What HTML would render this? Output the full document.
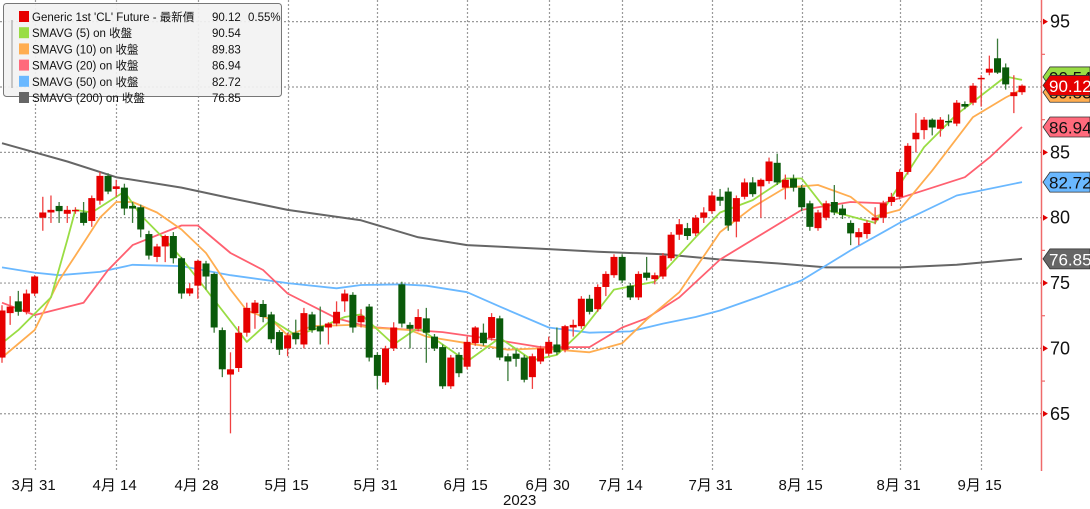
<!DOCTYPE html>
<html><head><meta charset="utf-8"><style>
html,body{margin:0;padding:0;background:#fff;}
svg{display:block;font-family:"Liberation Sans","Noto Sans CJK TC",sans-serif;}
</style></head><body>
<svg id="chart" width="1090" height="509" viewBox="0 0 1090 509" xmlns="http://www.w3.org/2000/svg">
<g id="grid"></g>
<g id="mas"></g>
<g id="candles"></g>
<g id="axis"></g>
<g id="legend"></g>
</svg>
<script>
// ---- data ----
const opens =  [69.3,72.7,73.6,72.8,74.2,80.0,80.4,80.9,80.3,80.5,80.4,79.75,81.3,83.2,82.2,82.3,80.9,80.8,78.75,77.0,77.8,78.6,76.9,74.2,74.8,76.5,75.7,71.4,68.0,68.5,71.2,72.7,73.4,72.6,71.25,70.0,71.2,70.3,72.6,71.7,71.6,71.9,73.6,74.1,72.0,73.2,69.5,67.4,70.0,74.9,71.8,71.5,72.3,70.9,70.1,67.1,69.5,68.6,70.4,71.2,70.8,72.3,69.4,69.6,69.3,67.8,69.0,69.6,70.3,69.9,71.6,71.7,73.8,73.0,74.7,75.6,77.0,74.8,73.9,75.8,75.3,75.5,76.9,78.7,79.2,78.8,80.0,80.5,81.6,82.0,79.7,81.6,82.7,82.4,82.8,84.2,82.3,83.0,82.3,81.1,79.2,80.0,81.2,80.7,79.6,78.5,78.75,79.8,80.0,81.2,81.6,83.5,86.0,86.7,87.5,86.8,87.4,87.2,88.7,88.8,90.6,91.1,92.2,91.5,89.3,89.6];
const highs =  [73.3,74.0,74.4,74.5,75.6,81.6,81.7,81.2,80.9,80.8,81.2,81.7,83.5,83.4,82.9,82.6,81.2,81.0,79.0,78.0,78.7,78.9,77.0,75.0,76.8,76.7,75.8,71.6,69.7,71.7,73.5,73.7,73.7,72.8,71.4,71.2,72.2,73.1,72.8,73.2,72.0,73.6,74.5,74.3,73.0,73.4,69.7,70.2,72.0,75.1,72.0,73.0,73.1,71.1,70.3,69.5,69.7,70.9,71.7,71.9,72.7,72.5,69.6,69.9,69.5,69.6,70.2,70.9,71.6,71.8,72.2,74.0,74.1,74.9,75.9,77.2,77.2,75.0,75.9,77.0,75.8,77.3,78.9,79.9,79.6,80.2,80.8,82.0,82.2,82.3,81.7,83.0,83.1,83.0,84.6,84.9,83.3,83.3,82.5,81.3,80.6,81.3,82.5,81.0,79.8,79.2,79.8,80.8,81.3,81.9,83.7,85.7,88.0,87.7,87.6,87.7,87.9,89.0,88.9,90.3,90.9,92.4,93.7,91.8,90.9,90.2];
const lows =   [68.9,71.8,72.5,72.6,74.0,79.0,79.6,79.6,79.6,80.3,79.4,79.3,81.0,81.8,81.6,80.2,79.6,78.5,76.8,76.6,76.6,76.5,73.8,74.0,73.8,74.5,71.2,67.8,63.5,68.2,70.9,71.5,72.0,70.4,69.5,69.4,70.3,70.0,71.2,70.3,70.3,71.7,72.8,71.2,71.6,69.0,66.9,67.2,69.8,71.6,70.0,71.3,68.9,69.8,66.9,66.9,67.8,68.4,70.2,70.2,70.6,69.1,67.5,68.6,67.4,66.9,68.8,69.4,69.5,69.7,70.9,71.5,72.6,72.8,74.0,75.4,75.0,73.7,73.7,75.2,74.9,75.3,76.7,78.3,78.3,78.6,79.6,80.3,80.9,79.0,78.5,81.4,81.6,80.0,82.6,82.5,81.4,82.0,80.5,79.0,79.0,79.8,80.2,79.9,77.9,77.9,78.4,79.5,79.6,80.9,81.4,83.3,85.0,86.0,86.3,86.2,87.0,87.0,88.3,88.6,88.5,90.9,91.0,89.8,88.0,89.4];
const closes = [72.9,73.2,72.8,74.2,75.5,80.4,80.6,80.5,80.6,80.6,79.6,81.5,83.2,82.0,82.4,80.7,80.7,79.1,77.1,77.8,78.6,76.9,74.2,74.6,76.7,75.5,71.6,68.4,68.4,71.2,73.1,73.5,72.4,70.7,69.9,71.0,70.7,72.7,71.4,71.3,71.9,72.8,74.2,71.6,72.5,69.3,67.9,70.0,71.6,71.9,71.5,72.4,71.2,70.0,67.1,69.3,68.1,70.5,71.6,70.4,72.4,69.3,69.0,69.2,67.6,69.4,70.0,70.5,69.7,71.7,71.8,73.8,72.8,74.7,75.7,77.0,75.2,73.9,75.7,75.4,75.6,77.1,78.7,79.5,78.6,80.0,80.4,81.7,81.3,79.4,81.5,82.7,81.8,82.9,84.3,82.7,82.9,82.3,80.8,79.3,80.4,81.1,80.4,80.2,78.8,78.9,79.6,80.0,81.1,81.6,83.5,85.5,86.5,87.5,86.9,87.5,87.3,88.8,88.5,90.1,90.7,91.4,91.1,90.2,89.6,90.1];
// moving averages read at sparse candle indices
const sma5Idx = [0,2,6,8,9,11,13,15,17,20,22,26,30,33,36,39,42,44,48,51,57,61,65,68,71,75,80,85,88,92,96,98,101,107,108,113,117,123,125];
const sma5Val = [70.4,71.4,73.9,78.3,80.6,80.4,81.2,82.0,80.2,78.3,76.9,73.7,70.5,72.2,71.0,71.6,72.4,72.6,70.3,71.6,69.0,70.8,69.1,69.5,71.3,74.5,75.1,78.5,80.4,81.35,83.0,83.0,80.6,79.6,80.6,85.4,87.9,90.8,90.54];
const sma10Idx = [0,4,7,9,12,14,16,19,22,25,28,30,33,35,38,43,45,50,52,57,62,66,72,76,79,83,88,92,96,100,104,107,110,114,119,123,125];
const sma10Val = [69.3,71.4,75.2,77.1,80.0,81.2,81.2,80.4,79.1,77.3,74.5,72.9,72.2,71.0,71.7,71.8,71.6,71.4,70.9,70.4,69.9,70.0,69.7,70.4,72.2,74.3,78.9,80.8,82.3,82.5,81.6,80.1,80.6,83.6,87.7,89.2,89.83];
const sma20Idx = [0,4,10,13,16,22,24,28,32,35,41,44,46,54,59,66,72,76,79,83,88,98,104,108,113,118,121,125];
const sma20Val = [73.5,72.55,73.5,76.0,77.9,79.4,79.4,77.3,76.0,74.2,72.3,71.8,71.6,71.25,70.8,70.1,70.1,71.6,72.3,73.9,76.8,80.6,81.2,81.1,82.1,83.1,84.6,86.94];
const sma50Idx = [0,4,7,12,16,22,28,35,41,44,49,52,57,61,67,72,77,81,85,88,93,98,104,110,117,125];
const sma50Val = [76.2,75.8,75.6,75.85,76.4,76.3,75.6,75.0,74.6,74.85,74.9,74.8,74.3,73.2,71.6,71.2,71.3,71.9,72.4,72.9,74.0,75.2,77.5,79.6,81.7,82.72];
const sma200Idx = [0,4,8,14,22,28,35,44,51,57,67,73,81,88,95,101,110,117,125];
const sma200Val = [85.7,85.0,84.3,83.1,82.3,81.5,80.6,79.8,78.5,77.9,77.6,77.4,77.2,76.8,76.5,76.2,76.2,76.4,76.85];
const yTicks = [95,85,80,75,70,65];
const yGrid = [95,90,85,80,75,70,65];
const xTickIdx = [4,14,24,35,46,57,67,76,87,98,110,120];
const xTickLabels = ["3月 31","4月 14","4月 28","5月 15","5月 31","6月 15","6月 30","7月 14","7月 31","8月 15","8月 31","9月 15"];
const tagValues = [90.54,89.83,90.12,86.94,82.72,76.85];
const legendNames = ["Generic 1st 'CL' Future - 最新價","SMAVG (5)  on 收盤","SMAVG (10)  on 收盤","SMAVG (20)  on 收盤","SMAVG (50)  on 收盤","SMAVG (200)  on 收盤"];
const legendValues = ["90.12","90.54","89.83","86.94","82.72","76.85"];

// ---- scales ----
const NS="http://www.w3.org/2000/svg";
const X0=2, STEP=8.16;
function xs(i){return X0+i*STEP;}
function ys(v){return 87-(v-90)*13.07;}
function mk(tag,attrs,parent){const e=document.createElementNS(NS,tag);for(const k in attrs)e.setAttribute(k,attrs[k]);parent.appendChild(e);return e;}
const grid=document.getElementById('grid'),mas=document.getElementById('mas'),cg=document.getElementById('candles'),ax=document.getElementById('axis'),lg=document.getElementById('legend');
const PLOT_R=1041, PLOT_B=471;

// grid
yGrid.forEach(v=>{const l=mk('line',{x1:0,x2:PLOT_R,y1:ys(v),y2:ys(v),stroke:'#9a9a9a','stroke-dasharray':'2 2','stroke-width':1.2},grid);

});
xTickIdx.forEach((i,k)=>{const x=Math.round(xs(i))+0.5;const l=mk('line',{x1:x,x2:x,y1:0,y2:PLOT_B,stroke:'#9a9a9a','stroke-dasharray':'2 2','stroke-width':1.2},grid);


const t=mk('text',{x:x-24,y:490,'font-size':15,fill:'#111'},ax);t.textContent=xTickLabels[k];

});
const yr=mk('text',{x:503,y:505,'font-size':15,fill:'#111'},ax);yr.textContent='2023';



// MA lines
function maLine(idx,val,color,name,w){const d=idx.map((i,k)=>(k?'L':'M')+xs(i).toFixed(1)+','+ys(val[k]).toFixed(1)).join(' ');
const p=mk('path',{d:d,fill:'none',stroke:color,'stroke-width':w||1.8,'stroke-linejoin':'round'},mas);

}
maLine(sma200Idx,sma200Val,'#666666','sma200-line',2);
maLine(sma50Idx,sma50Val,'#6ab8ff','sma50-line');
maLine(sma20Idx,sma20Val,'#ff6070','sma20-line');
maLine(sma10Idx,sma10Val,'#ffad50','sma10-line');
maLine(sma5Idx,sma5Val,'#99dd44','sma5-line');

// candles
closes.forEach((c,i)=>{const o=opens[i],up=c>=o;const col=up?'#e60000':'#0a5a0a';const wcol=up?'#f04040':'#3a7a3a';const x=xs(i);
const w=mk('line',{x1:x,x2:x,y1:ys(highs[i]),y2:ys(lows[i]),stroke:wcol,'stroke-width':1.3},cg);


const top=ys(Math.max(o,c)),h=Math.max(1.5,Math.abs(ys(o)-ys(c)));
const r=mk('rect',{x:x-3.5,y:top,width:7,height:h,fill:col},cg);

});

// right axis
const al=mk('line',{x1:PLOT_R+0.5,x2:PLOT_R+0.5,y1:0,y2:PLOT_B,stroke:'#ef6a6a','stroke-width':1.5},ax);


yTicks.forEach(v=>{const y=ys(v);
const tr=mk('path',{d:`M${PLOT_R+2},${y-3}L${PLOT_R+7},${y}L${PLOT_R+2},${y+3}Z`,fill:'#e00000'},ax);


const t=mk('text',{x:1050,y:y+6,'font-size':18,fill:'#111'},ax);t.textContent=v;

});
[92.5,87.5,77.5,72.5,67.5].forEach(v=>{const m=mk('line',{x1:PLOT_R,x2:PLOT_R+4,y1:ys(v),y2:ys(v),stroke:'#ef6a6a','stroke-width':1.2},ax);

});

// value tags
const tagFill=['#99dd44','#ffad50','#e60000','#ff6a7c','#6ab8ff','#666666'];
const tagText=['#111','#111','#fff','#111','#111','#fff'];
const tagOff=[-3,3,0,0,0,0];
tagValues.forEach((v,k)=>{const y=ys(v)+tagOff[k];
const p=mk('path',{d:`M1043,${y}L1050,${y-10}L1090,${y-10}L1090,${y+10}L1050,${y+10}Z`,fill:tagFill[k],stroke:'#333','stroke-width':0.8},ax);


const t=mk('text',{x:1049,y:y+6.5,'font-size':17,fill:tagText[k]},ax);t.textContent=v.toFixed(2);

});

// legend
const lb=mk('rect',{x:3.5,y:3.5,width:278,height:93,rx:3,fill:'#f2f2f2','fill-opacity':0.92,stroke:'#777','stroke-width':1},lg);


const tl=mk('path',{d:'M12,20V88',stroke:'#999','stroke-width':1,fill:'none'},lg);


const sw=['#e60000','#99dd44','#ffad50','#ff6a7c','#6ab8ff','#666666'];
legendNames.forEach((n,k)=>{const y=17+k*16.2;
const s=mk('rect',{x:19,y:y-6,width:10,height:11,fill:sw[k]},lg);


const t=mk('text',{x:32,y:y+4,'font-size':11.5,fill:'#111'},lg);t.textContent=n;


const val=mk('text',{x:212,y:y+4,'font-size':11.5,fill:'#111'},lg);val.textContent=legendValues[k];

});
const pc=mk('text',{x:248,y:21,'font-size':11.5,fill:'#111'},lg);pc.textContent='0.55%';


</script>
</body></html>
